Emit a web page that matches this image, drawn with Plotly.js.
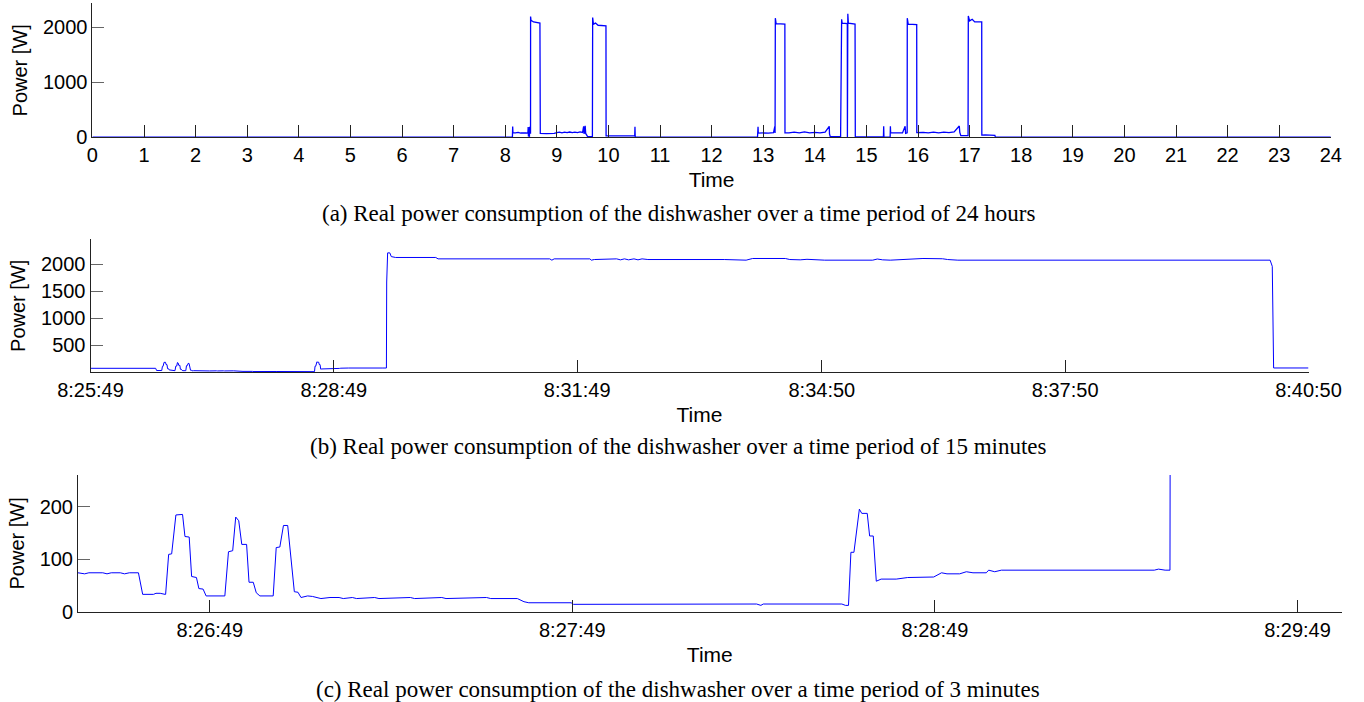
<!DOCTYPE html>
<html>
<head>
<meta charset="utf-8">
<script src="https://cdn.plot.ly/plotly-3.0.1.min.js"></script>
<style>
  html, body { margin: 0; padding: 0; background: #fff; }
  #chart { width: 1364px; height: 702px; }
</style>
</head>
<body>
<div id="chart"></div>
<script>
// ---------- Panel (a): 24 hours (hour of day, watts) ----------
const dayHours = [0, 8.14, 8.145, 8.15, 8.2, 8.25, 8.3, 8.35, 8.4, 8.44, 8.445, 8.45, 8.47, 8.472, 8.475, 8.491, 8.4915, 8.492, 8.5, 8.55, 8.6, 8.673, 8.6735, 8.674,
  8.68, 8.8, 8.95, 9.0, 9.05, 9.1, 9.15, 9.2, 9.25, 9.3, 9.35, 9.4, 9.45, 9.5, 9.52, 9.53, 9.55, 9.56, 9.6, 9.69, 9.695, 9.71, 9.75, 9.8, 9.9, 9.953, 9.955,
  10.0, 10.2, 10.4, 10.51, 10.515, 10.52,
  12.89, 12.9, 12.905, 13.0, 13.1, 13.2, 13.225, 13.23, 13.235, 13.25, 13.42, 13.422, 13.5, 13.6, 13.7, 13.8, 13.9, 14.0, 14.1, 14.2, 14.28, 14.285, 14.3, 14.5,
  14.52, 14.53, 14.63, 14.632, 14.64, 14.65, 14.78, 14.785, 15.33, 15.335, 15.34, 15.46, 15.465, 15.47, 15.6, 15.7, 15.75, 15.76, 15.79, 15.792, 15.81, 15.975, 15.977,
  16.1, 16.2, 16.3, 16.4, 16.5, 16.6, 16.7, 16.8, 16.81, 16.83, 16.97, 16.975, 17.0, 17.05, 17.1, 17.235, 17.237, 17.3, 17.4, 17.49, 17.5, 24];
const dayPower = [3, 3, 195, 85, 80, 88, 78, 85, 80, 74, 185, 25, 20, 190, 75, 75, 1670, 2200, 2130, 2100, 2090, 2080, 1960, 80,
  70, 68, 70, 85, 95, 82, 95, 84, 96, 85, 95, 85, 100, 88, 200, 60, 210, 70, 10, 10, 2180, 2060, 2080, 2040, 2030, 2030, 25,
  25, 22, 25, 25, 190, 3,
  3, 190, 75, 80, 75, 85, 200, 80, 2170, 2070, 2060, 80, 80, 95, 82, 98, 82, 90, 80, 95, 200, 60, 10, 10,
  2150, 2080, 2070, 3, 2250, 2080, 2060, 8, 8, 200, 3, 3, 200, 80, 82, 80, 200, 70, 80, 2170, 2060, 2050, 85,
  90, 80, 95, 82, 95, 85, 100, 205, 90, 30, 30, 2210, 2120, 2150, 2100, 2100, 40, 45, 35, 35, 3, 3];
const dayTicks = [0,1,2,3,4,5,6,7,8,9,10,11,12,13,14,15,16,17,18,19,20,21,22,23,24];
const dayTickText = dayTicks.map(String);

// ---------- Panels (b) and (c): one cycle, seconds after 8:25:49, watts ----------
const cycleSeconds = [0, 5, 10, 15, 20, 25, 30, 35,
  38.2, 39.3, 40.0, 42.3, 43.0, 43.7, 45.2, 45.9, 46.7, 48.2, 48.9, 50.7, 51.1, 51.8, 52.6, 52.7, 53.2, 53.7, 54.4, 55.5, 55.9, 56.6, 57.0, 57.8, 58.2, 58.9, 59.4,
  62.5, 63.1, 63.8, 64.3, 64.8, 65.3, 66.1, 66.5, 67.2, 67.7, 68.3, 70.5, 71.0, 71.6, 72.2, 72.9, 74.0, 74.6, 75.1, 76.2, 77.0, 78.4, 79.9, 81.4, 82.1, 83.6, 84.3,
  87.3, 88.0, 93.2, 93.9, 98.4, 99.1, 105.8, 106.5, 110.9, 112.0, 112.8, 119.8, 120.2,
  137.9, 150.5, 151.2, 151.6, 164.6, 165.2, 165.7, 166.1, 166.6, 167.5, 167.9, 168.8, 169.2, 169.8, 170.3, 171.1, 173.6, 175.5, 179.8, 181.1, 182, 184.1, 185.2,
  186.3, 188.5, 188.9, 189.9, 191, 216.3, 217, 218.1, 218.9,
  219.1, 219.8, 221.4, 222.5, 225.7, 255.4, 257.1, 339.7, 341.3, 343, 369.4, 370.5, 372.7, 385.9, 389.2, 392, 395, 398, 402, 405, 408, 412.3, 436.5, 440, 446.2,
  450, 455, 460, 468.8, 485, 489.8, 514, 517.3, 525, 530, 543.1, 578.6, 582, 586, 591.6, 615.8, 630.3, 634, 641.6, 662.7, 664, 666, 738.6, 740, 742, 754.7, 756, 758,
  872.6, 874.2, 875.2, 901];
const cyclePower = [74, 73, 74, 72, 74, 73, 74, 72,
  74, 72, 74, 74, 72, 74, 74, 72, 74, 74, 33, 33, 35, 35, 33, 33, 109, 110, 184, 185, 143, 142, 67, 65, 44, 43, 30,
  30, 114, 116, 180, 173, 128, 128, 56, 56, 36, 30, 30, 122, 123, 164, 164, 38, 37, 27, 30, 29, 25, 27, 27, 25, 27, 25,
  27, 25, 27, 25, 27, 25, 27, 25, 25, 19, 17, 17, 14,
  14.6, 14.6, 12, 14.6, 14.6, 12, 12, 113, 113, 195, 187, 187, 144, 144, 58, 62, 62, 65, 66, 74, 72, 72, 76,
  74, 74, 79, 76, 79, 79, 81, 79, 79,
  1670, 2209, 2209, 2140, 2124, 2124, 2098, 2098, 2074, 2098, 2098, 2074, 2086, 2086, 2098, 2080, 2098, 2080, 2098, 2080, 2098, 2086, 2086, 2080, 2086,
  2078, 2088, 2080, 2086, 2074, 2105, 2105, 2086, 2080, 2090, 2074, 2074, 2095, 2080, 2074, 2105, 2100, 2086, 2074, 2074, 2086, 2074, 2074, 2086, 2074, 2074, 2086, 2074,
  2074, 1960, 80, 80];

const minuteTicks = [0, 180, 360, 541, 721, 901];
const minuteTickText = ['8:25:49', '8:28:49', '8:31:49', '8:34:50', '8:37:50', '8:40:50'];
const zoomTicks = [60, 120, 180, 240];
const zoomTickText = ['8:26:49', '8:27:49', '8:28:49', '8:29:49'];

const captions = [
  '(a) Real power consumption of the dishwasher over a time period of 24 hours',
  '(b) Real power consumption of the dishwasher over a time period of 15 minutes',
  '(c) Real power consumption of the dishwasher over a time period of 3 minutes'
];

// ---------- styling ----------
const W = 1364, H = 702;
const sans = 'Liberation Sans, Arial, Helvetica, sans-serif';
const serif = 'Liberation Serif, Times New Roman, serif';
const tickFont = {family: sans, size: 20, color: '#000'};
const titleFont = {family: sans, size: 21, color: '#000'};
const px = v => v / W;
const py = v => 1 - v / H;

function xAxis(domain, range, tickvals, ticktext, yref) {
  return {
    domain: domain, range: range, anchor: yref,
    tickmode: 'array', tickvals: tickvals, ticktext: ticktext,
    ticks: 'inside', ticklen: 12, tickwidth: 1, tickcolor: '#222',
    showline: true, linecolor: '#222', linewidth: 1,
    showgrid: false, zeroline: false, tickfont: tickFont,
    ticklabelstandoff: 0,
    title: {text: 'Time', font: titleFont, standoff: 7},
    fixedrange: true
  };
}
function yAxis(domain, range, tickvals, xref) {
  return {
    domain: domain, range: range, anchor: xref,
    tickmode: 'array', tickvals: tickvals, ticktext: tickvals.map(String),
    ticks: 'inside', ticklen: 12, tickwidth: 1, tickcolor: '#666',
    showline: true, linecolor: '#222', linewidth: 1,
    showgrid: false, zeroline: false, tickfont: tickFont,
    title: {text: 'Power [W]', font: {family: sans, size: 20, color: '#000'}, standoff: 9},
    fixedrange: true
  };
}

const lineStyle = {color: '#0000ff', width: 1.3};
const traces = [
  {x: dayHours, y: dayPower, type: 'scatter', mode: 'lines', line: lineStyle, xaxis: 'x', yaxis: 'y', hoverinfo: 'skip'},
  {x: cycleSeconds, y: cyclePower, type: 'scatter', mode: 'lines', line: {color: '#0000ff', width: 1}, xaxis: 'x2', yaxis: 'y2', hoverinfo: 'skip'},
  {x: cycleSeconds, y: cyclePower, type: 'scatter', mode: 'lines', line: {color: '#0000ff', width: 1}, xaxis: 'x3', yaxis: 'y3', hoverinfo: 'skip'}
];

const capFont = {family: serif, size: 23, color: '#000'};
const capX = px(678);
const layout = {
  width: W, height: H,
  margin: {l: 0, r: 0, t: 0, b: 0},
  paper_bgcolor: '#fff', plot_bgcolor: '#fff',
  showlegend: false,
  xaxis: xAxis([px(92.4), px(1330.8)], [0, 24], dayTicks, dayTickText, 'y'),
  yaxis: yAxis([py(137.3), py(3.3)], [0, 2440], [0, 1000, 2000], 'x'),
  xaxis2: xAxis([px(90.5), px(1308.5)], [0, 901], minuteTicks, minuteTickText, 'y2'),
  yaxis2: yAxis([py(372.3), py(239.3)], [0, 2460], [500, 1000, 1500, 2000], 'x2'),
  xaxis3: xAxis([px(78), px(1341.6)], [38.2, 247.3], zoomTicks, zoomTickText, 'y3'),
  yaxis3: yAxis([py(611.7), py(475)], [0, 260], [0, 100, 200], 'x3'),
  annotations: [
    {text: captions[0], xref: 'paper', yref: 'paper', x: capX, y: py(214), xanchor: 'center', yanchor: 'middle', showarrow: false, font: capFont},
    {text: captions[1], xref: 'paper', yref: 'paper', x: capX, y: py(446), xanchor: 'center', yanchor: 'middle', showarrow: false, font: capFont},
    {text: captions[2], xref: 'paper', yref: 'paper', x: capX, y: py(689), xanchor: 'center', yanchor: 'middle', showarrow: false, font: capFont}
  ]
};

Plotly.newPlot('chart', traces, layout, {staticPlot: true, displayModeBar: false});
</script>
</body>
</html>
